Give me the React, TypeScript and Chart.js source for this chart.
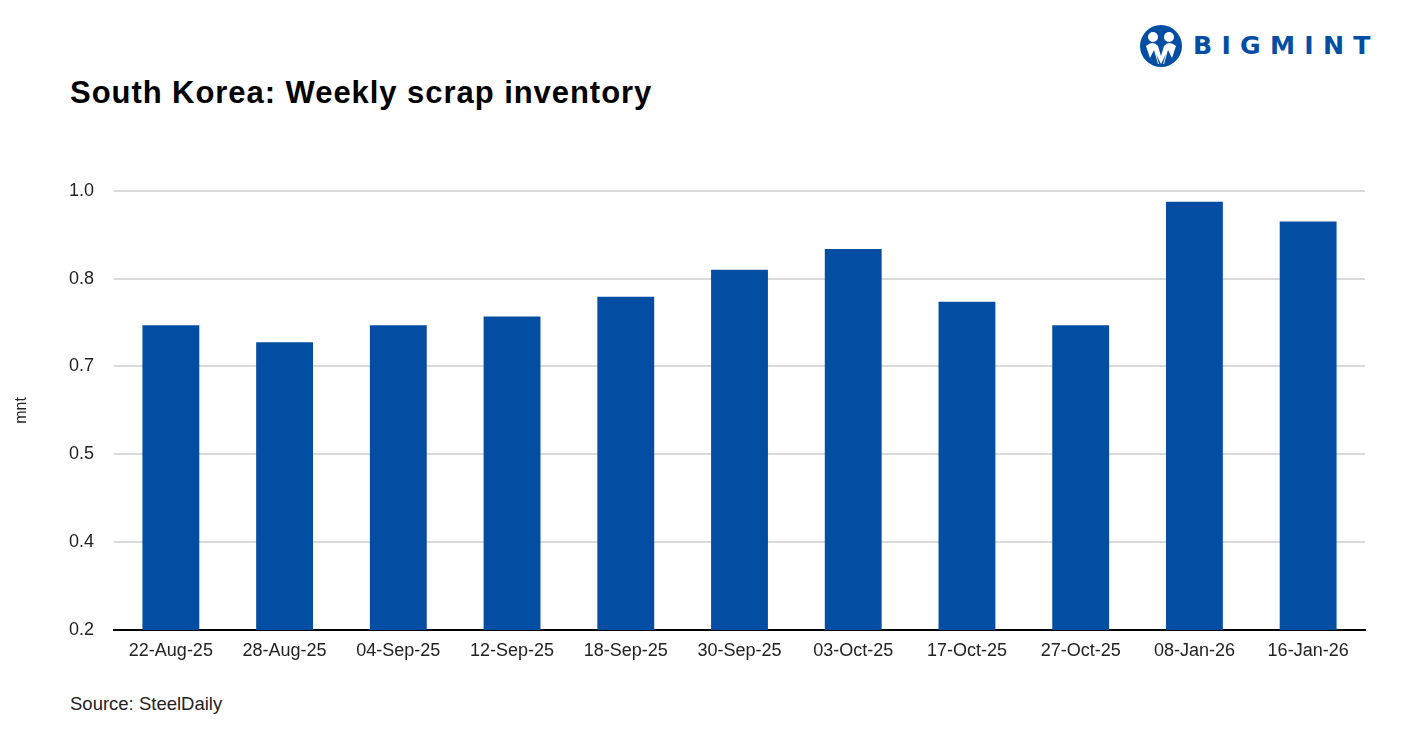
import React, { useEffect, useRef } from "react";
import { Chart, registerables } from "chart.js";

Chart.register(...registerables);

const categories = [
  "22-Aug-25",
  "28-Aug-25",
  "04-Sep-25",
  "12-Sep-25",
  "18-Sep-25",
  "30-Sep-25",
  "03-Oct-25",
  "17-Oct-25",
  "27-Oct-25",
  "08-Jan-26",
  "16-Jan-26",
];

const inventory = [0.755, 0.724, 0.755, 0.771, 0.807, 0.856, 0.894, 0.798, 0.755, 0.98, 0.944];

const yTicks = [0.2, 0.36, 0.52, 0.68, 0.84, 1.0];

const BLUE = "#034ea2";
const FONT = "'Liberation Sans', Arial, sans-serif";

function Logo() {
  return (
    <div
      style={{
        position: "absolute",
        left: 1139,
        top: 24,
        display: "flex",
        alignItems: "center",
      }}
    >
      <svg width="44" height="44" viewBox="0 0 44 44">
        <circle cx="22" cy="22" r="21" fill={BLUE} />
        <circle cx="14" cy="13" r="5" fill="#fff" />
        <circle cx="30" cy="13" r="5" fill="#fff" />
        <path d="M7 22 Q14 16 19 22 L22 32 L25 22 Q30 16 37 22 L33 34 L29 26 L25 40 L19 40 L15 26 L11 34 Z" fill="#fff" />
        <path d="M17 30 L22 40 L27 30 L24 40 L20 40 Z" fill={BLUE} />
      </svg>
      <span
        style={{
          marginLeft: 10,
          fontFamily: "'DejaVu Sans', sans-serif",
          fontWeight: 700,
          fontSize: 24,
          letterSpacing: 8.8,
          color: BLUE,
          transform: "scaleX(1.05)",
          transformOrigin: "left center",
          display: "inline-block",
        }}
      >
        BIGMINT
      </span>
    </div>
  );
}

export default function App() {
  const canvasRef = useRef<HTMLCanvasElement | null>(null);

  useEffect(() => {
    if (!canvasRef.current) return;
    const chart = new Chart(canvasRef.current, {
      type: "bar",
      data: {
        labels: categories,
        datasets: [
          {
            label: "mnt",
            data: inventory,
            backgroundColor: BLUE,
            borderWidth: 0,
            barPercentage: 0.5,
            categoryPercentage: 1.0,
          },
        ],
      },
      options: {
        responsive: false,
        animation: false,
        maintainAspectRatio: false,
        layout: { padding: { top: 10, right: 47, left: 0, bottom: 0 } },
        plugins: {
          legend: { display: false },
          tooltip: { enabled: false },
        },
        scales: {
          x: {
            grid: { display: false, drawTicks: false },
            border: { display: true, color: "#000", width: 2 },
            ticks: {
              color: "#222",
              font: { family: FONT, size: 18 },
              padding: 10,
              maxRotation: 0,
              autoSkip: false,
            },
            afterFit: (scale: any) => {
              scale.height = 50;
            },
          },
          y: {
            min: 0.2,
            max: 1.0,
            afterBuildTicks: (scale: any) => {
              scale.ticks = yTicks.map((v) => ({ value: v }));
            },
            grid: { color: "#d9d9d9", lineWidth: 2, drawTicks: false },
            border: { display: false },
            ticks: {
              color: "#222",
              font: { family: FONT, size: 18 },
              padding: 20,
              callback: (v: any) => Number(v).toFixed(1),
            },
            title: {
              display: true,
              text: "mnt",
              color: "#222",
              font: { family: FONT, size: 16 },
              padding: { top: 12, bottom: 0 },
            },
            afterFit: (scale: any) => {
              scale.width = 114;
            },
          },
        },
      },
    });
    return () => chart.destroy();
  }, []);

  return (
    <div
      style={{
        position: "fixed",
        left: 0,
        top: 0,
        width: 1412,
        height: 744,
        background: "#fff",
        overflow: "hidden",
      }}
    >
      <Logo />
      <div
        style={{
          position: "absolute",
          left: 70,
          top: 75,
          fontFamily: FONT,
          fontWeight: 700,
          fontSize: 31,
          letterSpacing: 0.95,
          color: "#000",
          whiteSpace: "nowrap",
        }}
      >
        South Korea: Weekly scrap inventory
      </div>
      <canvas
        ref={canvasRef}
        width={1412}
        height={520}
        style={{ position: "absolute", left: 0, top: 160, width: 1412, height: 520 }}
      />
      <div
        style={{
          position: "absolute",
          left: 70,
          top: 693,
          fontFamily: FONT,
          fontSize: 18.5,
          color: "#222",
          whiteSpace: "nowrap",
        }}
      >
        Source: SteelDaily
      </div>
    </div>
  );
}
